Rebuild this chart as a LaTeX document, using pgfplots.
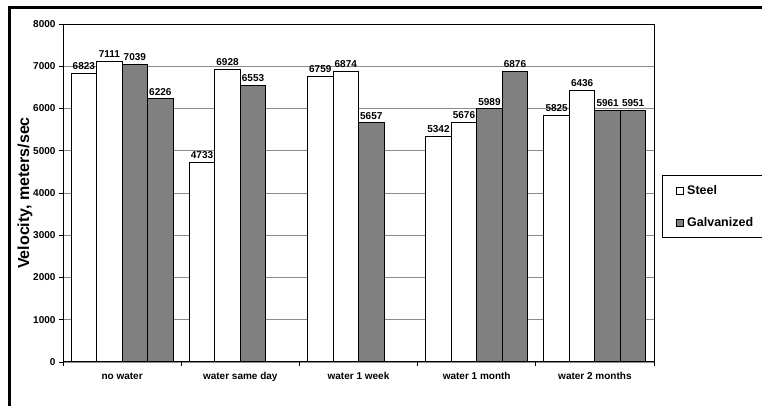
\documentclass[border=0pt]{standalone}
\usepackage{fontspec}
\setmainfont{Liberation Sans}
\usepackage{pgfplots}
\pgfplotsset{compat=1.18}

\begin{document}
\begin{tikzpicture}
	\path[use as bounding box, clip] (0,0) rectangle (762bp,406bp);
	% picture frame (top and left edges only are visible)
	\draw[line width=3bp] (9.5bp,-5bp) -- (9.5bp,398.5bp) -- (780bp,398.5bp);
	\begin{axis}[
	at={(63bp,44bp)}, anchor=south west,
	width=591bp, height=338bp, scale only axis,
	ybar=0pt, bar width=25.5bp,
	xmin=0.5, xmax=5.5, ymin=0, ymax=8000,
	ytick={0,1000,...,8000},
	xtick={0.5,1.5,...,5.5}, xticklabels={},
	extra x ticks={1,2,3,4,5},
	extra x tick labels={no water,water same day,water 1 week,water 1 month,water 2 months},
	extra x tick style={major tick length=0pt, tick label style={yshift=-7bp}},
	tick align=outside, major tick length=4bp,
	xtick pos=bottom, ytick pos=left,
	tick style={black, line width=0.8bp},
	axis line style={black, line width=1bp},
	ymajorgrids, major grid style={draw=black!45, line width=0.9bp},
	/pgf/number format/assume math mode=true,
	/pgf/number format/1000 sep={},
	ticklabel style={font=\bfseries\fontsize{10bp}{12bp}\selectfont},
	ylabel={Velocity, meters/sec},
	ylabel style={at={(axis description cs:-0.0643,0.5)}, anchor=center, font=\bfseries\fontsize{16bp}{18bp}\selectfont},
	nodes near coords,
	every node near coord/.append style={font=\bfseries\fontsize{10bp}{12bp}\selectfont, black},
	legend style={at={(1.0135,0.553)}, anchor=north west, draw=black, line width=1.2bp,
		inner xsep=13bp, inner ysep=8bp, row sep=17bp, column sep=2bp,
		font=\bfseries\fontsize{12.5bp}{14bp}\selectfont},
	legend cell align=left,
	legend image code/.code={\draw[#1, draw=black, line width=0.6bp] (0bp,-3.5bp) rectangle (7bp,3.5bp);},
	]
	% Steel, first set
	\addplot[fill=white, draw=black, line width=1bp, bar shift=-38.25bp] coordinates {
		(1,6823) (2,4733) (3,6759) (4,5342) (5,5825)
	};
	\addlegendentry{Steel}
	% Steel, second set
	\addplot[fill=white, draw=black, line width=1bp, bar shift=-12.75bp, forget plot] coordinates {
		(1,7111) (2,6928) (3,6874) (4,5676) (5,6436)
	};
	% Galvanized, first set
	\addplot[fill=gray, draw=black, line width=1bp, bar shift=12.75bp] coordinates {
		(1,7039) (2,6553) (3,5657) (4,5989) (5,5961)
	};
	\addlegendentry{Galvanized\hspace*{30bp}}
	% Galvanized, second set
	\addplot[fill=gray, draw=black, line width=1bp, bar shift=38.25bp, forget plot] coordinates {
		(1,6226) (4,6876) (5,5951)
	};
	\end{axis}
\end{tikzpicture}
\end{document}
